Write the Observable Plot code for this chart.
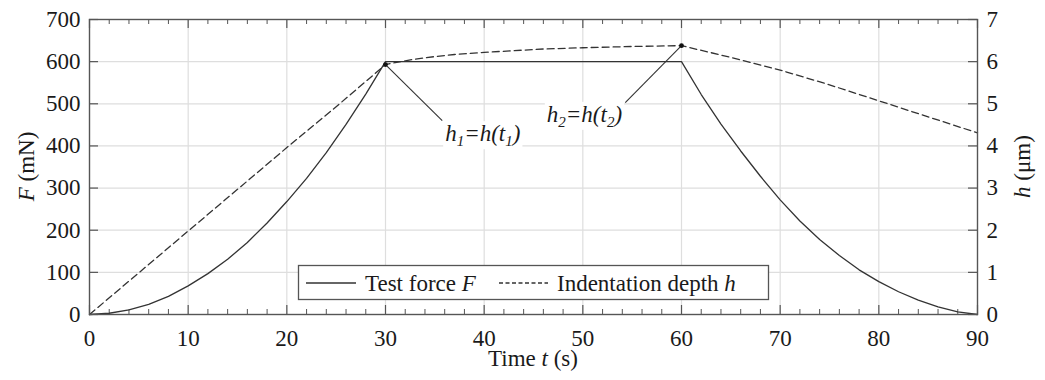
<!DOCTYPE html>
<html>
<head>
<meta charset="utf-8">
<script src="https://cdn.jsdelivr.net/npm/d3@7"></script>
<script src="https://cdn.jsdelivr.net/npm/@observablehq/plot@0.6"></script>
<style>
  body { margin: 0; background: white; }
  svg text { font-family: "Liberation Serif", serif; }
</style>
</head>
<body>
<div id="chart"></div>
<script>
// ---- data ----
const time  = [0,2,4,6,8,10,12,14,16,18,20,22,24,26,28,30,60,62,64,66,68,70,72,74,76,78,80,82,84,86,88,90];
const force = [0,3,11,24,43,68,97,131,171,217,268,323,384,451,523,600,600,522,452,388,328,272,222,178,140,106,78,54,34,18,6,0];

const depthTime = [0,5,10,15,20,25,30,31,32,33,35,37,40,43,46,50,55,60,65,70,75,80,85,90];
const depth     = [0,0.99,1.98,2.97,3.96,4.93,5.93,5.98,6.02,6.06,6.12,6.17,6.22,6.26,6.30,6.33,6.36,6.38,6.10,5.80,5.45,5.07,4.69,4.31];

const xTicks = [0,10,20,30,40,50,60,70,80,90];
const fTicks = [0,100,200,300,400,500,600,700];
const hTicks = [0,1,2,3,4,5,6,7];
const xMinorTicks = d3.range(0, 91, 2).filter(d => d % 10 !== 0);

// annotation points (t, h) and label anchors
const markT = [30, 60];
const markH = [5.93, 6.38];
const leaderEndT = [35.75, 54.3];
const leaderEndF = [460, 503];
const labelT = [36.1, 46.4];
const labelF = [410, 456];
const labelSub = ["1", "2"];

const hScale = 100; // h (µm) -> F axis units (7 µm <-> 700 mN)

const forceData = time.map((t, i) => ({t, F: force[i]}));
const depthData = depthTime.map((t, i) => ({t, h: depth[i]}));
const marks = markT.map((t, i) => ({t, h: markH[i], t2: leaderEndT[i], f2: leaderEndF[i]}));

const plotH = 380 - 19 - 66, plotW = 1045 - 89 - 68;
const ink = "#333";
const FS = 23;

const plot = Plot.plot({
  width: 1045, height: 380,
  marginLeft: 89, marginRight: 68, marginTop: 19, marginBottom: 66,
  style: {fontFamily: "'Liberation Serif', serif", fontSize: FS + "px", color: "#1a1a1a", background: "white", overflow: "visible"},
  x: {domain: [0, 90]},
  y: {domain: [0, 700]},
  marks: [
    Plot.gridX(xTicks.slice(1, -1), {stroke: "#dedede", strokeOpacity: 1, strokeWidth: 1.2}),
    Plot.gridY(fTicks.slice(1, -1), {stroke: "#dedede", strokeOpacity: 1, strokeWidth: 1.2}),
    Plot.axisX(xTicks, {tickSize: 0, tickPadding: 15, label: null}),
    Plot.axisY(fTicks, {tickSize: 0, tickPadding: 9, label: null}),
    Plot.axisY(hTicks.map(d => d * hScale), {anchor: "right", tickSize: 0, tickPadding: 9, tickFormat: d => d / hScale, label: null}),
    // inward ticks
    Plot.tickX(xTicks, {x: d => d, insetTop: plotH - 9, stroke: "#555", strokeWidth: 1.2}),
    Plot.tickX(xTicks, {x: d => d, insetBottom: plotH - 9, stroke: "#555", strokeWidth: 1.2}),
    Plot.tickX(xMinorTicks, {x: d => d, insetTop: plotH - 5, stroke: "#555", strokeWidth: 1}),
    Plot.tickX(xMinorTicks, {x: d => d, insetBottom: plotH - 5, stroke: "#555", strokeWidth: 1}),
    Plot.tickY(fTicks, {y: d => d, insetRight: plotW - 9, stroke: "#555", strokeWidth: 1.2}),
    Plot.tickY(hTicks.map(d => d * hScale), {y: d => d, insetLeft: plotW - 9, stroke: "#555", strokeWidth: 1.2}),
    // data
    Plot.line(forceData, {x: "t", y: "F", stroke: ink, strokeWidth: 1.3}),
    Plot.line(depthData, {x: "t", y: d => d.h * hScale, stroke: ink, strokeWidth: 1.3, strokeDasharray: "7,4"}),
    // annotation leaders + points
    Plot.link(marks, {x1: "t", y1: d => d.h * hScale, x2: "t2", y2: "f2", stroke: ink, strokeWidth: 1.1}),
    Plot.dot(marks, {x: "t", y: d => d.h * hScale, r: 2.4, fill: "#111", stroke: "none"}),
    Plot.frame({stroke: "#555", strokeWidth: 1.4})
  ]
});

document.getElementById("chart").appendChild(plot);

const sx = plot.scale("x"), sy = plot.scale("y");
const svg = d3.select(plot);

// annotation labels with subscripts and white background
labelT.forEach((t, i) => {
  const g = svg.append("g");
  const txt = g.append("text")
    .attr("x", sx.apply(t)).attr("y", sy.apply(labelF[i]))
    .attr("text-anchor", "start")
    .attr("font-size", FS).attr("font-style", "italic").attr("fill", "#1a1a1a");
  txt.append("tspan").text("h");
  txt.append("tspan").attr("font-size", 15).attr("dy", 5).text(labelSub[i]);
  txt.append("tspan").attr("dy", -5).text("=h(t");
  txt.append("tspan").attr("font-size", 15).attr("dy", 5).text(labelSub[i]);
  txt.append("tspan").attr("dy", -5).text(")");
  const bb = txt.node().getBBox();
  g.insert("rect", "text").attr("x", bb.x - 2).attr("y", bb.y).attr("width", bb.width + 4).attr("height", bb.height).attr("fill", "white");
});

// axis titles
const cy = (19 + 314) / 2;
const yl = svg.append("text").attr("transform", `translate(26,${cy}) rotate(-90)`)
  .attr("text-anchor", "middle").attr("dominant-baseline", "central").attr("font-size", FS).attr("fill", "#1a1a1a");
yl.append("tspan").attr("font-style", "italic").text("F");
yl.append("tspan").text(" (mN)");

const yr = svg.append("text").attr("transform", `translate(1022,${cy}) rotate(-90)`)
  .attr("text-anchor", "middle").attr("dominant-baseline", "central").attr("font-size", FS).attr("fill", "#1a1a1a");
yr.append("tspan").attr("font-style", "italic").text("h");
yr.append("tspan").text(" (μm)");

const xl = svg.append("text").attr("x", (89 + 977) / 2).attr("y", 366)
  .attr("text-anchor", "middle").attr("font-size", FS).attr("fill", "#1a1a1a");
xl.append("tspan").text("Time ");
xl.append("tspan").attr("font-style", "italic").text("t");
xl.append("tspan").text(" (s)");

// legend
const lg = svg.append("g");
lg.append("rect").attr("x", 298.5).attr("y", 265.5).attr("width", 470).attr("height", 34)
  .attr("fill", "white").attr("stroke", "#555").attr("stroke-width", 1.3);
lg.append("line").attr("x1", 306).attr("x2", 356).attr("y1", 283).attr("y2", 283).attr("stroke", ink).attr("stroke-width", 1.3);
const t1 = lg.append("text").attr("x", 365).attr("y", 291).attr("text-anchor", "start").attr("font-size", FS).attr("fill", "#1a1a1a");
t1.append("tspan").text("Test force ");
t1.append("tspan").attr("font-style", "italic").text("F");
lg.append("line").attr("x1", 499).attr("x2", 548).attr("y1", 283).attr("y2", 283).attr("stroke", ink).attr("stroke-width", 1.3).attr("stroke-dasharray", "4,2.5");
const t2 = lg.append("text").attr("x", 557).attr("y", 291).attr("text-anchor", "start").attr("font-size", FS).attr("fill", "#1a1a1a");
t2.append("tspan").text("Indentation depth ");
t2.append("tspan").attr("font-style", "italic").text("h");
</script>
</body>
</html>
